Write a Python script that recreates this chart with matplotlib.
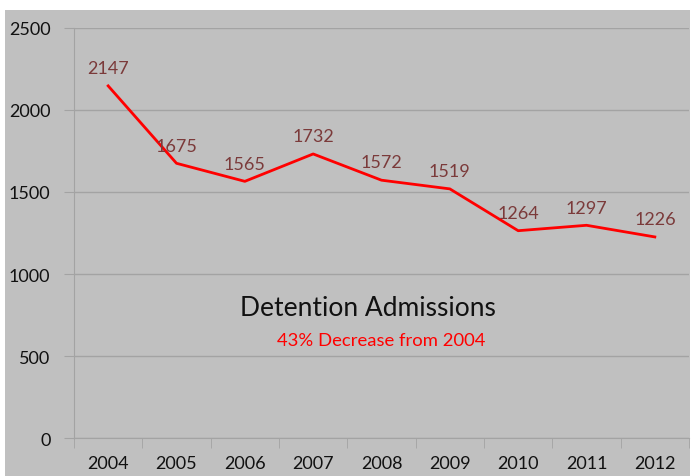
import matplotlib
matplotlib.use("Agg")
import matplotlib.pyplot as plt
from matplotlib.patches import Rectangle
from matplotlib.ticker import FixedLocator, NullFormatter

years = ["2004", "2005", "2006", "2007", "2008", "2009", "2010", "2011", "2012"]
admissions = [2147, 1675, 1565, 1732, 1572, 1519, 1264, 1297, 1226]
y_ticks = [0, 500, 1000, 1500, 2000, 2500]

plt.rcParams["font.family"] = ["Lato", "DejaVu Sans"]

bg = "#c0c0c0"
grid = "#a3a3a3"

fig = plt.figure(figsize=(6.91, 4.77), dpi=100)
fig.patch.set_facecolor("white")
fig.patches.append(Rectangle((5 / 691, 0), 685 / 691, 1 - 11 / 477,
                             transform=fig.transFigure, facecolor=bg,
                             edgecolor="none", zorder=-1))

ax = fig.add_axes([74 / 691, 1 - 439 / 477, 615 / 691, 410 / 477])
ax.set_facecolor(bg)

x = list(range(len(years)))
ax.plot(x, admissions, color="#ff0000", lw=2, zorder=3)
for xi, v in zip(x, admissions):
    ax.annotate(str(v), (xi, v), xytext=(0, 7), textcoords="offset points",
                ha="center", va="bottom", fontsize=13, color="#7b3a3a")

ax.set_xlim(-0.5, len(years) - 0.5)
ax.set_ylim(0, 2500)
ax.set_yticks(y_ticks)
ax.set_yticklabels([str(t) for t in y_ticks])
ax.yaxis.grid(True, color=grid, lw=1)
ax.set_axisbelow(True)

ax.set_xticks(x)
ax.set_xticklabels(years)
ax.tick_params(axis="x", which="major", length=0, pad=12, labelsize=13, labelcolor="#111111")
ax.xaxis.set_minor_locator(FixedLocator([i - 0.5 for i in range(len(years) + 1)]))
ax.xaxis.set_minor_formatter(NullFormatter())
ax.tick_params(axis="x", which="minor", length=7, color=grid, direction="out")
ax.tick_params(axis="y", length=7, color=grid, pad=10, labelsize=13, labelcolor="#111111")

for side in ["top", "right"]:
    ax.spines[side].set_visible(False)
for side in ["left", "bottom"]:
    ax.spines[side].set_color(grid)

ax.text(0.478, 0.318, "Detention Admissions", transform=ax.transAxes,
        ha="center", va="center", fontsize=19, color="#111111")
ax.text(0.5, 0.238, "43% Decrease from 2004", transform=ax.transAxes,
        ha="center", va="center", fontsize=13.3, color="#ff0000")

fig.savefig("out.png", dpi=100, facecolor=fig.get_facecolor())
